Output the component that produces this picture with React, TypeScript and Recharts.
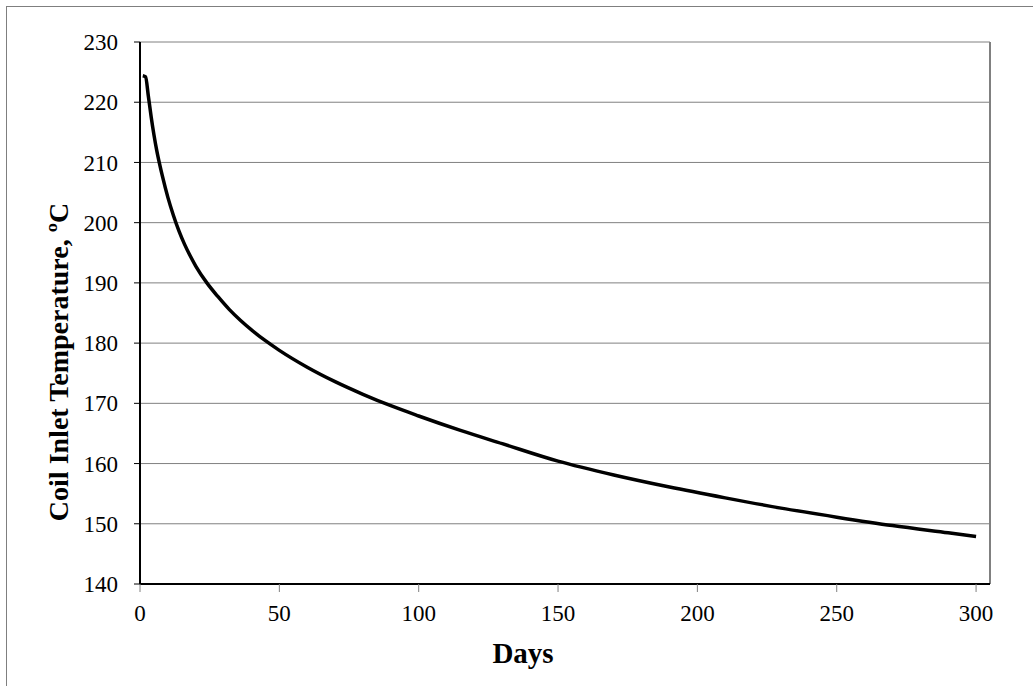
import React from 'react';
import { LineChart, Line, XAxis, YAxis, CartesianGrid, ReferenceLine, Label } from 'recharts';

// Days since start and the coil inlet temperature
const days = [1, 2, 3, 4, 5, 6, 7, 8, 10, 12, 14, 16, 18, 20, 24, 28, 32, 36, 40, 45, 50, 60, 70, 80, 90, 100, 115, 130, 150, 170, 190, 210, 230, 250, 270, 290, 300];
const temps = [224.4, 224.2, 221, 217.6, 214.6, 212, 209.8, 207.8, 204.2, 201.2, 198.6, 196.4, 194.5, 192.8, 190, 187.7, 185.6, 183.8, 182.2, 180.4, 178.8, 176, 173.6, 171.5, 169.6, 167.9, 165.5, 163.3, 160.4, 158.1, 156.1, 154.3, 152.6, 151.1, 149.7, 148.5, 147.9];

const xTicks = [0, 50, 100, 150, 200, 250, 300];
const yTicks = [140, 150, 160, 170, 180, 190, 200, 210, 220, 230];

const font = '"Liberation Serif", "Times New Roman", serif';

const data = days.map((d, i) => ({ day: d, temp: temps[i] }));

const App = () => {
  return (
    <div style={{ position: 'fixed', left: 0, top: 0, width: 1033, height: 686, overflow: 'hidden', background: '#fff' }}>
      {/* outer chart frame, runs off the right and bottom */}
      <div style={{ position: 'absolute', left: 6, top: 6, width: 1060, height: 740, border: '1px solid #7f7f7f' }} />
      <div style={{ position: 'absolute', left: 0, top: 0 }}>
        <LineChart width={1033} height={686} data={data} margin={{ top: 42, right: 43, left: 80, bottom: 42 }}>
          <CartesianGrid vertical={false} stroke="#808080" strokeWidth={1} />
          <XAxis
            dataKey="day"
            type="number"
            domain={[0, 305]}
            ticks={xTicks}
            height={60}
            axisLine={{ stroke: '#000', strokeWidth: 2 }}
            tickLine={{ stroke: '#808080' }}
            tickSize={8}
            tickMargin={13}
            tick={{ fill: '#000', fontSize: 23, fontFamily: font }}
          >
            <Label
              content={() => (
                <text x={523} y={663} textAnchor="middle" fontFamily={font} fontSize={29} fontWeight="bold" fill="#000">
                  Days
                </text>
              )}
            />
          </XAxis>
          <YAxis
            type="number"
            domain={[140, 230]}
            ticks={yTicks}
            width={60}
            axisLine={{ stroke: '#000', strokeWidth: 2 }}
            tickLine={{ stroke: '#000' }}
            tickSize={6}
            tickMargin={16}
            tick={{ fill: '#000', fontSize: 23, fontFamily: font }}
          >
            <Label
              content={() => (
                <text
                  x={68}
                  y={362}
                  transform="rotate(-90, 68, 362)"
                  textAnchor="middle"
                  fontFamily={font}
                  fontSize={28}
                  fontWeight="bold"
                  fill="#000"
                >
                  Coil Inlet Temperature, ºC
                </text>
              )}
            />
          </YAxis>
          <ReferenceLine x={305} stroke="#808080" strokeWidth={2} />
          <Line
            type="monotone"
            dataKey="temp"
            stroke="#000"
            strokeWidth={3.5}
            dot={false}
            isAnimationActive={false}
          />
        </LineChart>
      </div>
    </div>
  );
};

export default App;
